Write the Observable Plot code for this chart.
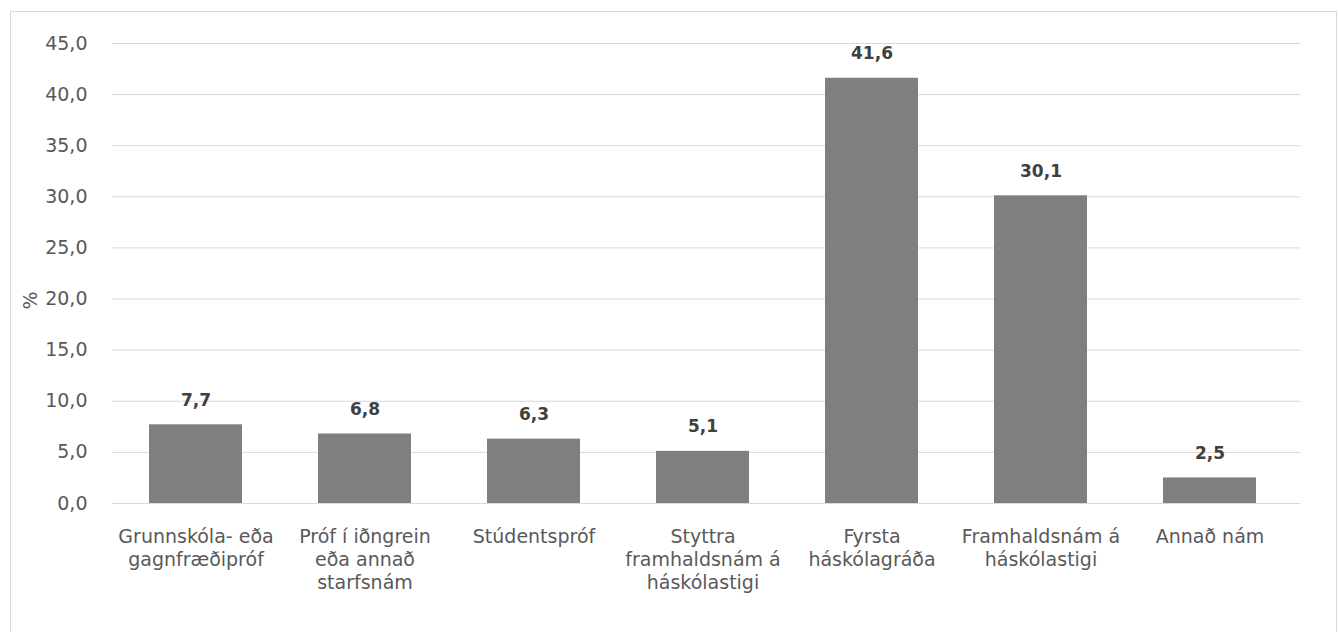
<!DOCTYPE html>
<html>
<head>
<meta charset="utf-8">
<script src="https://cdn.jsdelivr.net/npm/d3@7"></script>
<script src="https://cdn.jsdelivr.net/npm/@observablehq/plot@0.6"></script>
<style>
  html, body { margin: 0; padding: 0; background: #fff; }
  #wrap { position: relative; width: 1338px; height: 632px; overflow: hidden; }
  #border { position: absolute; left: 10px; top: 11px; width: 1325px; height: 630px; border: 1px solid #d9d9d9; pointer-events: none; }
  svg { display: block; }
</style>
</head>
<body>
<div id="wrap"><div id="border"></div></div>
<script>
const categories = [
  "Grunnskóla- eða\ngagnfræðipróf",
  "Próf í iðngrein\neða annað\nstarfsnám",
  "Stúdentspróf",
  "Styttra\nframhaldsnám á\nháskólastigi",
  "Fyrsta\nháskólagráða",
  "Framhaldsnám á\nháskólastigi",
  "Annað nám"
];
const values = [7.7, 6.8, 6.3, 5.1, 41.6, 30.1, 2.5];
const yTicks = [0, 5, 10, 15, 20, 25, 30, 35, 40, 45];
const yLabel = "%";

const data = categories.map((c, i) => ({cat: c, value: values[i]}));
const fmt = d => d.toFixed(1).replace(".", ",");

const chart = Plot.plot({
  width: 1338,
  height: 632,
  marginLeft: 112,
  marginRight: 38,
  marginTop: 43,
  marginBottom: 129,
  style: {fontFamily: "'DejaVu Sans', sans-serif", background: "transparent"},
  x: {domain: categories, paddingInner: 0.45, paddingOuter: 0.22, range: [108, 1296], label: null},
  y: {domain: [0, 45], ticks: yTicks, label: null},
  marks: [
    Plot.gridY(yTicks, {stroke: "#d9d9d9", strokeOpacity: 1, strokeWidth: 1}),
    Plot.barY(data, {x: "cat", y: "value", fill: "#7f7f7f"}),
    Plot.text(data, {x: "cat", y: "value", text: d => fmt(d.value), lineAnchor: "bottom", dy: -19, fontSize: 17, fontWeight: "bold", fill: "#404040"}),
    Plot.axisY(yTicks, {tickSize: 0, tickPadding: 25, tickFormat: fmt, fontSize: 19, fill: "#595959", label: null}),
    Plot.axisX({tickSize: 0, tickPadding: 23, fontSize: 19, fill: "#595959", lineHeight: 1.21, label: null}),
    Plot.text([yLabel], {frameAnchor: "left", text: d => d, rotate: -90, dx: -82, dy: 36, fontSize: 19, fill: "#595959"})
  ]
});
document.getElementById("wrap").prepend(chart);
</script>
</body>
</html>
